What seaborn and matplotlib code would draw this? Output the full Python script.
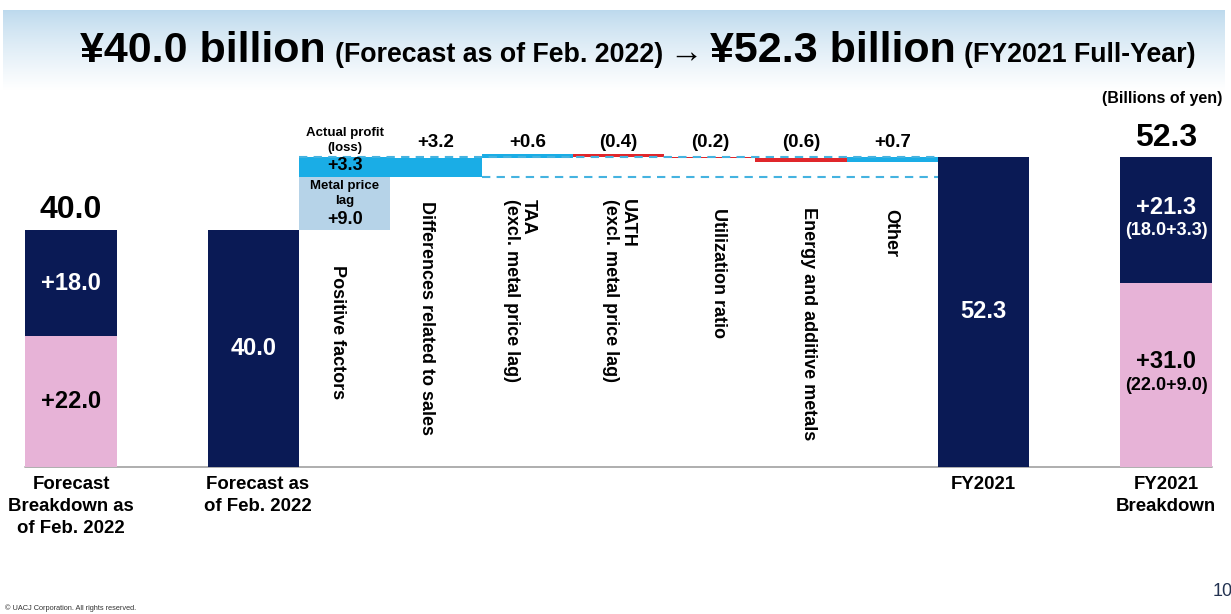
import numpy as np
import pandas as pd
import matplotlib
matplotlib.use("Agg")
import matplotlib.pyplot as plt
from matplotlib.colors import LinearSegmentedColormap
import seaborn as sns

# ---------------- data (billions of yen) ----------------
forecast_total = 40.0
forecast_profit = 18.0          # actual profit (loss) part of the forecast
forecast_metal_lag = 22.0       # metal price lag part of the forecast
positive_metal_lag = 9.0
positive_profit = 3.3
factor_labels = [
    "Differences related to sales",
    "TAA\n(excl. metal price lag)",
    "UATH\n(excl. metal price lag)",
    "Utilization ratio",
    "Energy and additive metals",
    "Other",
]
factor_values = [3.2, 0.6, -0.4, -0.2, -0.6, 0.7]
factor_value_labels = ["+3.2", "+0.6", "(0.4)", "(0.2)", "(0.6)", "+0.7"]
fy2021_total = 52.3
fy2021_profit = 21.3
fy2021_metal_lag = 31.0
column_labels = ["Forecast\nBreakdown as\nof Feb. 2022", "Forecast as\nof Feb. 2022",
                 "FY2021", "FY2021\nBreakdown"]

# ---------------- style ----------------
NAVY = "#0a1a55"
PINK = "#e7b3d7"
LIGHT_BLUE = "#b6d3e8"
CYAN = "#1aade6"
RED = "#e0262b"
DASH = "#45b3e0"
GRID = "#a8a8a8"

sns.set_style("white")
plt.rcParams["font.family"] = ["Liberation Sans", "DejaVu Sans"]
plt.rcParams["text.color"] = "black"

W, H = 1231, 614
fig = plt.figure(figsize=(W / 100, H / 100), dpi=100)

# title banner with a soft blue fade
bax = fig.add_axes([3 / W, 1 - 90 / H, 1222 / W, 80 / H], zorder=0)
grad = np.linspace(0, 1, 200) ** 0.8
cmap = LinearSegmentedColormap.from_list("banner", ["#bcd9ed", "#ffffff"])
bax.imshow(grad.reshape(-1, 1), aspect="auto", cmap=cmap, extent=[0, 1, 0, 1], origin="upper")
bax.axis("off")

# main chart axes: one slot per column position
ax = fig.add_axes([0, 0, 1, 1], zorder=1)
ax.set_facecolor("none")

slot_keys = [f"s{i}" for i in range(13)]
total_slots = [0, 2, 10, 12]
totals = pd.DataFrame({
    "slot": [slot_keys[i] for i in total_slots],
    "value": [forecast_total, forecast_total, fy2021_total, fy2021_total],
})
metal_parts = pd.DataFrame({
    "slot": [slot_keys[0], slot_keys[12]],
    "value": [forecast_metal_lag, fy2021_metal_lag],
})
sns.barplot(data=totals, x="slot", y="value", order=slot_keys, color=NAVY,
            saturation=1, width=1.0, errorbar=None, linewidth=0, ax=ax, zorder=2)
sns.barplot(data=metal_parts, x="slot", y="value", order=slot_keys, color=PINK,
            saturation=1, width=1.0, errorbar=None, linewidth=0, ax=ax, zorder=2)

# positive factors (stacked floating column)
pos_slot = 3
ax.bar(pos_slot, positive_metal_lag, bottom=forecast_total, width=1.0,
       color=LIGHT_BLUE, linewidth=0, zorder=2)
ax.bar(pos_slot, positive_profit, bottom=forecast_total + positive_metal_lag, width=1.0,
       color=CYAN, linewidth=0, zorder=2)

# breakdown of actual profit (waterfall)
level = forecast_total + positive_metal_lag
start_level = level
for i, v in enumerate(factor_values):
    ax.bar(4 + i, abs(v), bottom=min(level, level + v), width=1.0,
           color=CYAN if v > 0 else RED, linewidth=0, zorder=2)
    level += v

# guide lines
ax.plot([2.5, 9.5], [fy2021_total, fy2021_total], color=DASH, lw=1.5,
        dashes=(4, 3), zorder=3)
ax.plot([4.5, 9.5], [start_level, start_level], color=DASH, lw=1.5,
        dashes=(4, 3), zorder=3)
ax.plot([-0.5, 12.5], [0, 0], color=GRID, lw=1.3, zorder=1)

# axes limits (pixel-consistent: 91.25 px per slot, 5.91 px per billion)
ax.set_xlim(-71 / 91.25, (W - 71) / 91.25)
ax.set_ylim(-(H - 466.5) / 5.91, 466.5 / 5.91)
ax.axis("off")

B = dict(fontweight="bold", ha="center")

# values on the total columns
ax.text(0, forecast_total + 0.8, f"{forecast_total:.1f}", fontsize=23, va="bottom", **B)
ax.text(0, forecast_metal_lag + forecast_profit / 2, f"+{forecast_profit:.1f}",
        fontsize=17, color="white", va="center", **B)
ax.text(0, forecast_metal_lag / 2, f"+{forecast_metal_lag:.1f}", fontsize=17, va="center", **B)
ax.text(2, forecast_total / 2, f"{forecast_total:.1f}", fontsize=17, color="white", va="center", **B)
ax.text(10, fy2021_total / 2, f"{fy2021_total:.1f}", fontsize=17, color="white", va="center", **B)
ax.text(12, fy2021_total + 0.8, f"{fy2021_total:.1f}", fontsize=23, va="bottom", **B)
mid_p = fy2021_metal_lag + fy2021_profit / 2
ax.text(12, mid_p + 0.3, f"+{fy2021_profit:.1f}", fontsize=17, color="white", va="bottom", **B)
ax.text(12, mid_p - 0.3, f"({forecast_profit:.1f}+{positive_profit:.1f})", fontsize=13,
        color="white", va="top", **B)
mid_m = fy2021_metal_lag / 2
ax.text(12, mid_m + 0.3, f"+{fy2021_metal_lag:.1f}", fontsize=17, va="bottom", **B)
ax.text(12, mid_m - 0.3, f"({forecast_metal_lag:.1f}+{positive_metal_lag:.1f})", fontsize=13,
        va="top", **B)

# positive factors annotations
ax.text(pos_slot, 55.2, "Actual profit\n(loss)", fontsize=9.5, va="center", linespacing=1.35, **B)
ax.text(pos_slot, forecast_total + positive_metal_lag + positive_profit / 2 + 0.2,
        f"+{positive_profit:.1f}", fontsize=13, va="center", **B)
ax.text(pos_slot, 46.2, "Metal price\nlag", fontsize=9.5, va="center", linespacing=1.35, **B)
ax.text(pos_slot, 41.8, f"+{positive_metal_lag:.1f}", fontsize=13, va="center", **B)
ax.text(pos_slot - 0.08, 34.1, "Positive factors", fontsize=13, rotation=270,
        va="top", ha="center", fontweight="bold")

# factor labels
label_dx = [-0.1, -0.08, 0.0, 0.1, 0.08, -0.02]
label_top = [45.0, 45.2, 45.2, 43.7, 43.9, 43.5]
for i, (name, vlab) in enumerate(zip(factor_labels, factor_value_labels)):
    ax.text(4 + i, 53.3, vlab, fontsize=13.5, va="bottom", **B)
    ax.text(4 + i + label_dx[i], label_top[i], name, fontsize=13, rotation=270,
            va="top", ha="center", multialignment="left", fontweight="bold",
            linespacing=1.0)

# column captions under the baseline
for slot, lab, dx in zip(total_slots, column_labels, [0, 0.05, 0, 0]):
    ax.text(slot + dx, -1.6, lab, fontsize=13.4, va="top", linespacing=1.38, **B)

# unit note, footer, page number
fig.text(1162 / W, 1 - 98 / H, "(Billions of yen)", fontsize=11.5, fontweight="bold",
         ha="center", va="center")
fig.text(5 / W, 1 - 608 / H, "\u00a9 UACJ Corporation. All rights reserved.",
         fontsize=5.3, color="#333333", ha="left", va="center")
fig.text(1213 / W, 1 - 592 / H, "10", fontsize=13, color="#243352", ha="left", va="center")

# headline, assembled piece by piece
fig.canvas.draw()
renderer = fig.canvas.get_renderer()
x = 80
pieces = [("\u00a540.0 billion", 31, 9), ("(Forecast as of Feb. 2022)", 19.3, 6),
          ("\u2192", 24, 8), ("\u00a552.3 billion", 31, 8), ("(FY2021 Full-Year)", 19.3, 0)]
for s, size, gap in pieces:
    t = fig.text(x / W, 1 - 62 / H, s, fontsize=size, fontweight="bold",
                 ha="left", va="baseline")
    bb = t.get_window_extent(renderer=renderer)
    x = bb.x1 + gap

fig.savefig("out.png", dpi=100)
